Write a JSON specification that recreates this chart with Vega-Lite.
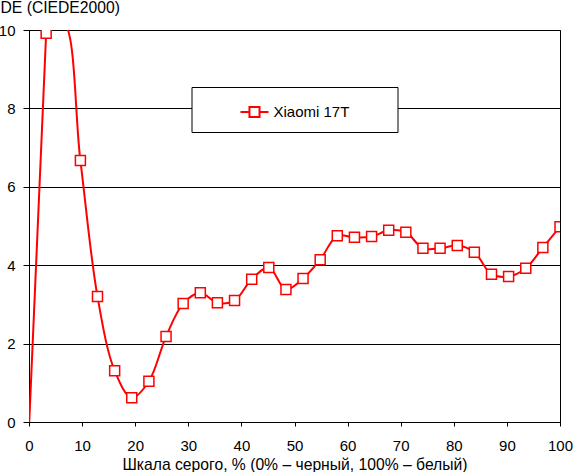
{
  "$schema": "https://vega.github.io/schema/vega-lite/v6.json",
  "description": "DE (CIEDE2000) across the grey scale, Xiaomi 17T",
  "width": 531,
  "height": 392,
  "autosize": {"type": "none"},
  "padding": {"left": 29, "top": 30, "right": 13, "bottom": 50},
  "background": "white",
  "data": {
    "values": [
      {"grey": 0, "de": -0.15, "device": "Xiaomi 17T"},
      {"grey": 3.23, "de": 9.92, "device": "Xiaomi 17T"},
      {"grey": 6.45, "de": 10.2, "device": "Xiaomi 17T"},
      {"grey": 9.68, "de": 6.67, "device": "Xiaomi 17T"},
      {"grey": 12.9, "de": 3.2, "device": "Xiaomi 17T"},
      {"grey": 16.13, "de": 1.31, "device": "Xiaomi 17T"},
      {"grey": 19.35, "de": 0.62, "device": "Xiaomi 17T"},
      {"grey": 22.58, "de": 1.04, "device": "Xiaomi 17T"},
      {"grey": 25.81, "de": 2.18, "device": "Xiaomi 17T"},
      {"grey": 29.03, "de": 3.02, "device": "Xiaomi 17T"},
      {"grey": 32.26, "de": 3.3, "device": "Xiaomi 17T"},
      {"grey": 35.48, "de": 3.04, "device": "Xiaomi 17T"},
      {"grey": 38.71, "de": 3.1, "device": "Xiaomi 17T"},
      {"grey": 41.94, "de": 3.64, "device": "Xiaomi 17T"},
      {"grey": 45.16, "de": 3.94, "device": "Xiaomi 17T"},
      {"grey": 48.39, "de": 3.38, "device": "Xiaomi 17T"},
      {"grey": 51.61, "de": 3.66, "device": "Xiaomi 17T"},
      {"grey": 54.84, "de": 4.14, "device": "Xiaomi 17T"},
      {"grey": 58.06, "de": 4.75, "device": "Xiaomi 17T"},
      {"grey": 61.29, "de": 4.71, "device": "Xiaomi 17T"},
      {"grey": 64.52, "de": 4.73, "device": "Xiaomi 17T"},
      {"grey": 67.74, "de": 4.89, "device": "Xiaomi 17T"},
      {"grey": 70.97, "de": 4.84, "device": "Xiaomi 17T"},
      {"grey": 74.19, "de": 4.43, "device": "Xiaomi 17T"},
      {"grey": 77.42, "de": 4.43, "device": "Xiaomi 17T"},
      {"grey": 80.65, "de": 4.5, "device": "Xiaomi 17T"},
      {"grey": 83.87, "de": 4.33, "device": "Xiaomi 17T"},
      {"grey": 87.1, "de": 3.77, "device": "Xiaomi 17T"},
      {"grey": 90.32, "de": 3.71, "device": "Xiaomi 17T"},
      {"grey": 93.55, "de": 3.92, "device": "Xiaomi 17T"},
      {"grey": 96.77, "de": 4.45, "device": "Xiaomi 17T"},
      {"grey": 100, "de": 4.98, "device": "Xiaomi 17T"}
    ]
  },
  "encoding": {
    "x": {
      "field": "grey",
      "type": "quantitative",
      "scale": {"domain": [0, 100], "nice": false},
      "axis": {
        "title": "Шкала серого, % (0% – черный, 100% – белый)",
        "values": [0, 10, 20, 30, 40, 50, 60, 70, 80, 90, 100],
        "grid": false,
        "tickSize": 4,
        "labelPadding": 12,
        "labelFlush": false,
        "titleBaseline": "alphabetic",
        "titleY": 47
      }
    },
    "y": {
      "field": "de",
      "type": "quantitative",
      "scale": {"domain": [0, 10], "nice": false},
      "axis": {
        "title": "DE (CIEDE2000)",
        "values": [0, 2, 4, 6, 8, 10],
        "grid": true,
        "tickSize": 6,
        "labelPadding": 8,
        "labelFlush": false,
        "titleAngle": 0,
        "titleAlign": "left",
        "titleBaseline": "alphabetic",
        "titleX": -29,
        "titleY": -17.5
      }
    }
  },
  "layer": [
    {
      "transform": [{"filter": "datum.grey <= 3.23"}],
      "mark": {
        "type": "line",
        "color": "#ff0000",
        "strokeWidth": 2,
        "clip": true
      }
    },
    {
      "transform": [{"filter": "datum.grey >= 3.23"}],
      "mark": {
        "type": "line",
        "interpolate": "catmull-rom",
        "color": "#ff0000",
        "strokeWidth": 2,
        "clip": true
      }
    },
    {
      "mark": {
        "type": "point",
        "shape": "square",
        "filled": true,
        "fill": "white",
        "opacity": 1,
        "strokeWidth": 1.5,
        "size": 100,
        "clip": true
      },
      "encoding": {
        "stroke": {
          "field": "device",
          "type": "nominal",
          "scale": {"range": ["#ff0000"]},
          "legend": {
            "title": null,
            "orient": "none",
            "legendX": 162.5,
            "legendY": 57,
            "fillColor": "white",
            "strokeColor": "black",
            "padding": 10,
            "symbolType": "M-1,0H-0.36M0.36,0H1M-0.36,-0.36H0.36V0.36H-0.36Z",
            "symbolSize": 784,
            "symbolFillColor": "white",
            "symbolOpacity": 1,
            "symbolStrokeWidth": 2,
            "symbolOffset": 38,
            "labelOffset": 4,
            "labelFontSize": 15,
            "labelExpr": "datum.label + '\u00a0\u00a0\u00a0\u00a0\u00a0\u00a0\u00a0\u00a0\u00a0\u200b'"
          }
        }
      }
    }
  ],
  "config": {
    "font": "Liberation Sans",
    "view": {"stroke": "black", "strokeWidth": 1},
    "axis": {
      "domainColor": "black",
      "tickColor": "black",
      "gridColor": "black",
      "gridOpacity": 1,
      "labelColor": "black",
      "titleColor": "black",
      "labelFontSize": 15,
      "titleFontSize": 15.7,
      "titleFontWeight": "normal",
      "labelFont": "Liberation Sans",
      "titleFont": "Liberation Sans"
    },
    "legend": {"labelColor": "black", "labelFont": "Liberation Sans"}
  }
}
